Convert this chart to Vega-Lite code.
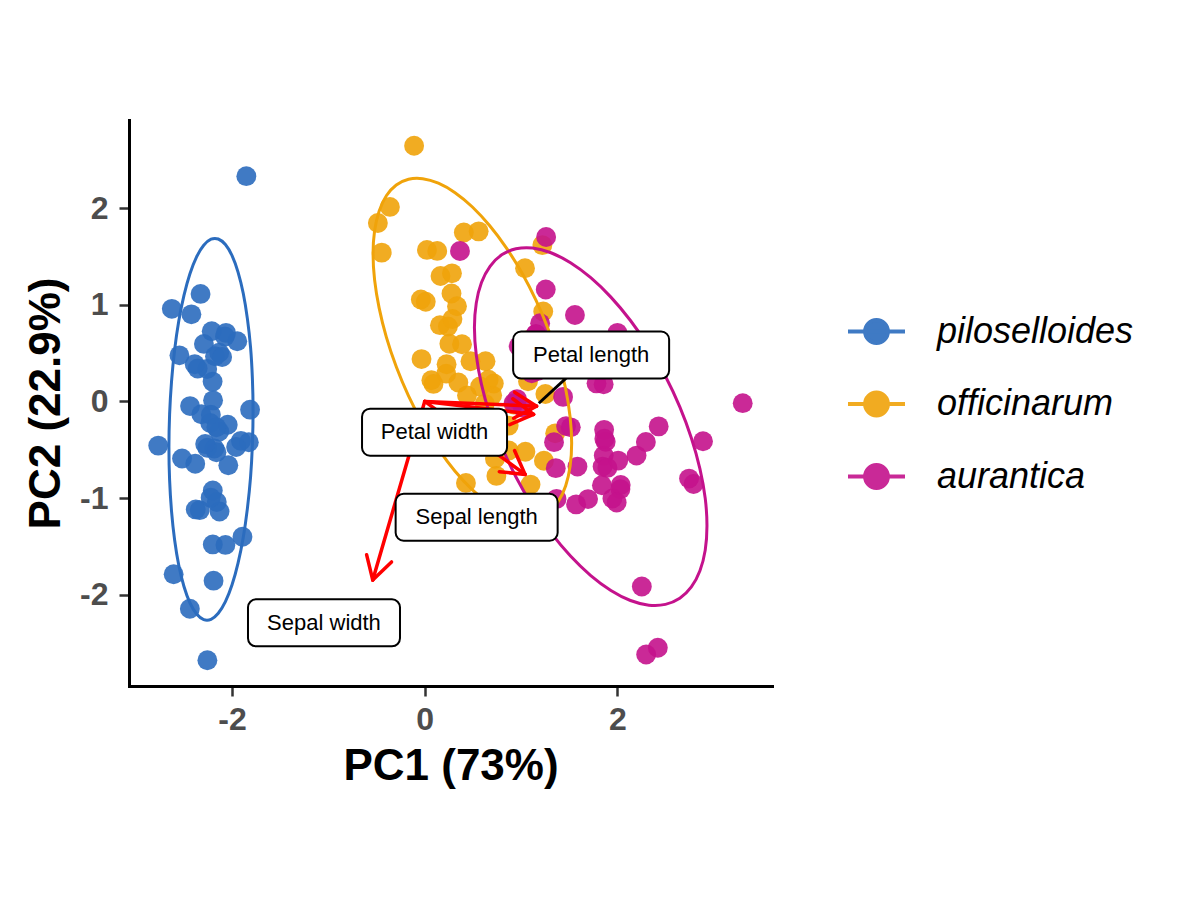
{
  "$schema": "https://vega.github.io/schema/vega-lite/v6.json",
  "width": 643,
  "height": 566,
  "autosize": {"type": "none"},
  "padding": {"left": 129, "top": 120, "right": 408, "bottom": 221},
  "background": "white",
  "config": {
    "view": {"stroke": null},
    "font": "Liberation Sans",
    "axis": {
      "grid": false,
      "domainColor": "black",
      "domainWidth": 3,
      "domainCap": "square",
      "tickColor": "#333333",
      "tickWidth": 2.5,
      "tickSize": 10,
      "labelFont": "Liberation Sans",
      "labelFontSize": 32,
      "labelFontWeight": "bold",
      "labelColor": "#4D4D4D",
      "labelExpr": "datum.value < 0 ? '-' + abs(datum.value) : '' + datum.value",
      "titleFont": "Liberation Sans",
      "titleFontSize": 44,
      "titleFontWeight": "bold",
      "titleColor": "black"
    },
    "axisX": {"labelPadding": 8, "titleY": 80, "titleBaseline": "middle"},
    "axisY": {"labelPadding": 11, "titleX": -83, "titleY": 283, "titleAngle": 270, "titleBaseline": "middle", "titleAlign": "center"},
    "legend": {
      "orient": "none",
      "legendX": 717,
      "legendY": 181,
      "padding": 0,
      "labelFont": "Liberation Sans",
      "labelFontSize": 36,
      "labelFontStyle": "italic",
      "labelColor": "black",
      "labelOffset": 30,
      "labelLimit": 0,
      "rowPadding": 22.5
    }
  },
  "datasets": {
    "points": [
      {"species": "piloselloides", "pc1": -2.256, "pc2": -0.479},
      {"species": "piloselloides", "pc1": -2.073, "pc2": 0.672},
      {"species": "piloselloides", "pc1": -2.356, "pc2": 0.341},
      {"species": "piloselloides", "pc1": -2.291, "pc2": 0.595},
      {"species": "piloselloides", "pc1": -2.381, "pc2": -0.645},
      {"species": "piloselloides", "pc1": -2.068, "pc2": -1.484},
      {"species": "piloselloides", "pc1": -2.435, "pc2": -0.048},
      {"species": "piloselloides", "pc1": -2.225, "pc2": -0.223},
      {"species": "piloselloides", "pc1": -2.326, "pc2": 1.112},
      {"species": "piloselloides", "pc1": -2.176, "pc2": 0.467},
      {"species": "piloselloides", "pc1": -2.158, "pc2": -1.040},
      {"species": "piloselloides", "pc1": -2.318, "pc2": -0.133},
      {"species": "piloselloides", "pc1": -2.210, "pc2": 0.726},
      {"species": "piloselloides", "pc1": -2.624, "pc2": 0.958},
      {"species": "piloselloides", "pc1": -2.191, "pc2": -1.854},
      {"species": "piloselloides", "pc1": -2.255, "pc2": -2.677},
      {"species": "piloselloides", "pc1": -2.199, "pc2": -1.479},
      {"species": "piloselloides", "pc1": -2.182, "pc2": -0.487},
      {"species": "piloselloides", "pc1": -1.891, "pc2": -1.400},
      {"species": "piloselloides", "pc1": -2.335, "pc2": -1.124},
      {"species": "piloselloides", "pc1": -1.907, "pc2": -0.408},
      {"species": "piloselloides", "pc1": -2.199, "pc2": -0.921},
      {"species": "piloselloides", "pc1": -2.765, "pc2": -0.457},
      {"species": "piloselloides", "pc1": -1.812, "pc2": -0.085},
      {"species": "piloselloides", "pc1": -2.219, "pc2": -0.137},
      {"species": "piloselloides", "pc1": -1.945, "pc2": 0.623},
      {"species": "piloselloides", "pc1": -2.044, "pc2": -0.241},
      {"species": "piloselloides", "pc1": -2.161, "pc2": -0.526},
      {"species": "piloselloides", "pc1": -2.132, "pc2": -0.312},
      {"species": "piloselloides", "pc1": -2.257, "pc2": 0.336},
      {"species": "piloselloides", "pc1": -2.132, "pc2": 0.503},
      {"species": "piloselloides", "pc1": -1.825, "pc2": -0.422},
      {"species": "piloselloides", "pc1": -2.605, "pc2": -1.788},
      {"species": "piloselloides", "pc1": -2.437, "pc2": -2.144},
      {"species": "piloselloides", "pc1": -2.102, "pc2": 0.459},
      {"species": "piloselloides", "pc1": -2.201, "pc2": 0.205},
      {"species": "piloselloides", "pc1": -2.038, "pc2": -0.660},
      {"species": "piloselloides", "pc1": -2.518, "pc2": -0.590},
      {"species": "piloselloides", "pc1": -2.421, "pc2": 0.901},
      {"species": "piloselloides", "pc1": -2.162, "pc2": -0.268},
      {"species": "piloselloides", "pc1": -2.278, "pc2": -0.440},
      {"species": "piloselloides", "pc1": -1.851, "pc2": 2.330},
      {"species": "piloselloides", "pc1": -2.545, "pc2": 0.477},
      {"species": "piloselloides", "pc1": -1.957, "pc2": -0.471},
      {"species": "piloselloides", "pc1": -2.129, "pc2": -1.139},
      {"species": "piloselloides", "pc1": -2.062, "pc2": 0.709},
      {"species": "piloselloides", "pc1": -2.376, "pc2": -1.117},
      {"species": "piloselloides", "pc1": -2.386, "pc2": 0.385},
      {"species": "piloselloides", "pc1": -2.221, "pc2": -0.995},
      {"species": "piloselloides", "pc1": -2.196, "pc2": 0.011},
      {"species": "officinarum", "pc1": 1.098, "pc2": -0.860},
      {"species": "officinarum", "pc1": 0.729, "pc2": -0.593},
      {"species": "officinarum", "pc1": 1.237, "pc2": -0.614},
      {"species": "officinarum", "pc1": 0.406, "pc2": 1.748},
      {"species": "officinarum", "pc1": 1.072, "pc2": 0.208},
      {"species": "officinarum", "pc1": 0.387, "pc2": 0.591},
      {"species": "officinarum", "pc1": 0.744, "pc2": -0.770},
      {"species": "officinarum", "pc1": -0.486, "pc2": 1.846},
      {"species": "officinarum", "pc1": 0.925, "pc2": -0.032},
      {"species": "officinarum", "pc1": 0.011, "pc2": 1.031},
      {"species": "officinarum", "pc1": -0.110, "pc2": 2.645},
      {"species": "officinarum", "pc1": 0.439, "pc2": 0.063},
      {"species": "officinarum", "pc1": 0.560, "pc2": 1.759},
      {"species": "officinarum", "pc1": 0.717, "pc2": 0.186},
      {"species": "officinarum", "pc1": -0.033, "pc2": 0.438},
      {"species": "officinarum", "pc1": 0.873, "pc2": -0.507},
      {"species": "officinarum", "pc1": 0.349, "pc2": 0.196},
      {"species": "officinarum", "pc1": 0.158, "pc2": 0.789},
      {"species": "officinarum", "pc1": 1.221, "pc2": 1.617},
      {"species": "officinarum", "pc1": 0.164, "pc2": 1.298},
      {"species": "officinarum", "pc1": 0.735, "pc2": -0.395},
      {"species": "officinarum", "pc1": 0.475, "pc2": 0.416},
      {"species": "officinarum", "pc1": 1.230, "pc2": 0.930},
      {"species": "officinarum", "pc1": 0.631, "pc2": 0.415},
      {"species": "officinarum", "pc1": 0.700, "pc2": 0.063},
      {"species": "officinarum", "pc1": 0.871, "pc2": -0.250},
      {"species": "officinarum", "pc1": 1.252, "pc2": 0.077},
      {"species": "officinarum", "pc1": 1.354, "pc2": -0.330},
      {"species": "officinarum", "pc1": 0.663, "pc2": 0.225},
      {"species": "officinarum", "pc1": -0.040, "pc2": 1.055},
      {"species": "officinarum", "pc1": 0.130, "pc2": 1.557},
      {"species": "officinarum", "pc1": 0.023, "pc2": 1.567},
      {"species": "officinarum", "pc1": 0.241, "pc2": 0.775},
      {"species": "officinarum", "pc1": 1.058, "pc2": 0.632},
      {"species": "officinarum", "pc1": 0.223, "pc2": 0.287},
      {"species": "officinarum", "pc1": 0.428, "pc2": -0.843},
      {"species": "officinarum", "pc1": 1.045, "pc2": -0.520},
      {"species": "officinarum", "pc1": 1.041, "pc2": 1.378},
      {"species": "officinarum", "pc1": 0.069, "pc2": 0.219},
      {"species": "officinarum", "pc1": 0.283, "pc2": 1.325},
      {"species": "officinarum", "pc1": 0.278, "pc2": 1.116},
      {"species": "officinarum", "pc1": 0.623, "pc2": -0.025},
      {"species": "officinarum", "pc1": 0.335, "pc2": 0.985},
      {"species": "officinarum", "pc1": -0.361, "pc2": 2.012},
      {"species": "officinarum", "pc1": 0.288, "pc2": 0.853},
      {"species": "officinarum", "pc1": 0.091, "pc2": 0.181},
      {"species": "officinarum", "pc1": 0.227, "pc2": 0.384},
      {"species": "officinarum", "pc1": 0.575, "pc2": 0.154},
      {"species": "officinarum", "pc1": -0.446, "pc2": 1.539},
      {"species": "officinarum", "pc1": 0.256, "pc2": 0.597},
      {"species": "aurantica", "pc1": 1.839, "pc2": -0.867},
      {"species": "aurantica", "pc1": 1.154, "pc2": 0.696},
      {"species": "aurantica", "pc1": 2.198, "pc2": -0.560},
      {"species": "aurantica", "pc1": 1.436, "pc2": 0.047},
      {"species": "aurantica", "pc1": 1.862, "pc2": -0.294},
      {"species": "aurantica", "pc1": 2.743, "pc2": -0.798},
      {"species": "aurantica", "pc1": 0.366, "pc2": 1.556},
      {"species": "aurantica", "pc1": 2.295, "pc2": -0.419},
      {"species": "aurantica", "pc1": 2.000, "pc2": 0.709},
      {"species": "aurantica", "pc1": 2.253, "pc2": -1.914},
      {"species": "aurantica", "pc1": 1.360, "pc2": -0.690},
      {"species": "aurantica", "pc1": 1.597, "pc2": 0.420},
      {"species": "aurantica", "pc1": 1.878, "pc2": -0.418},
      {"species": "aurantica", "pc1": 1.256, "pc2": 1.158},
      {"species": "aurantica", "pc1": 1.463, "pc2": 0.441},
      {"species": "aurantica", "pc1": 1.585, "pc2": -0.674},
      {"species": "aurantica", "pc1": 1.467, "pc2": -0.255},
      {"species": "aurantica", "pc1": 2.419, "pc2": -2.548},
      {"species": "aurantica", "pc1": 3.300, "pc2": -0.018},
      {"species": "aurantica", "pc1": 1.260, "pc2": 1.701},
      {"species": "aurantica", "pc1": 2.031, "pc2": -0.907},
      {"species": "aurantica", "pc1": 0.975, "pc2": 0.570},
      {"species": "aurantica", "pc1": 2.888, "pc2": -0.412},
      {"species": "aurantica", "pc1": 1.329, "pc2": 0.480},
      {"species": "aurantica", "pc1": 1.695, "pc2": -1.010},
      {"species": "aurantica", "pc1": 1.948, "pc2": -1.004},
      {"species": "aurantica", "pc1": 1.171, "pc2": 0.315},
      {"species": "aurantica", "pc1": 1.018, "pc2": -0.064},
      {"species": "aurantica", "pc1": 1.783, "pc2": 0.187},
      {"species": "aurantica", "pc1": 1.858, "pc2": -0.560},
      {"species": "aurantica", "pc1": 2.428, "pc2": -0.258},
      {"species": "aurantica", "pc1": 2.298, "pc2": -2.617},
      {"species": "aurantica", "pc1": 1.857, "pc2": 0.178},
      {"species": "aurantica", "pc1": 1.111, "pc2": 0.292},
      {"species": "aurantica", "pc1": 1.198, "pc2": 0.809},
      {"species": "aurantica", "pc1": 2.790, "pc2": -0.854},
      {"species": "aurantica", "pc1": 1.571, "pc2": -1.065},
      {"species": "aurantica", "pc1": 1.342, "pc2": -0.421},
      {"species": "aurantica", "pc1": 0.922, "pc2": -0.017},
      {"species": "aurantica", "pc1": 1.846, "pc2": -0.674},
      {"species": "aurantica", "pc1": 2.008, "pc2": -0.612},
      {"species": "aurantica", "pc1": 1.896, "pc2": -0.687},
      {"species": "aurantica", "pc1": 1.154, "pc2": 0.696},
      {"species": "aurantica", "pc1": 2.034, "pc2": -0.865},
      {"species": "aurantica", "pc1": 1.992, "pc2": -1.045},
      {"species": "aurantica", "pc1": 1.864, "pc2": -0.386},
      {"species": "aurantica", "pc1": 1.559, "pc2": 0.894},
      {"species": "aurantica", "pc1": 1.516, "pc2": -0.268},
      {"species": "aurantica", "pc1": 1.368, "pc2": -1.008},
      {"species": "aurantica", "pc1": 0.958, "pc2": 0.024}
    ],
    "ellipses": [
      {"species": "piloselloides", "k": 0, "pc1": -1.781, "pc2": -0.101},
      {"species": "piloselloides", "k": 1, "pc1": -1.788, "pc2": 0.238},
      {"species": "piloselloides", "k": 2, "pc1": -1.807, "pc2": 0.560},
      {"species": "piloselloides", "k": 3, "pc1": -1.840, "pc2": 0.857},
      {"species": "piloselloides", "k": 4, "pc1": -1.883, "pc2": 1.119},
      {"species": "piloselloides", "k": 5, "pc1": -1.937, "pc2": 1.338},
      {"species": "piloselloides", "k": 6, "pc1": -1.999, "pc2": 1.508},
      {"species": "piloselloides", "k": 7, "pc1": -2.068, "pc2": 1.623},
      {"species": "piloselloides", "k": 8, "pc1": -2.142, "pc2": 1.680},
      {"species": "piloselloides", "k": 9, "pc1": -2.217, "pc2": 1.678},
      {"species": "piloselloides", "k": 10, "pc1": -2.293, "pc2": 1.615},
      {"species": "piloselloides", "k": 11, "pc1": -2.367, "pc2": 1.495},
      {"species": "piloselloides", "k": 12, "pc1": -2.436, "pc2": 1.321},
      {"species": "piloselloides", "k": 13, "pc1": -2.498, "pc2": 1.097},
      {"species": "piloselloides", "k": 14, "pc1": -2.552, "pc2": 0.832},
      {"species": "piloselloides", "k": 15, "pc1": -2.595, "pc2": 0.533},
      {"species": "piloselloides", "k": 16, "pc1": -2.627, "pc2": 0.208},
      {"species": "piloselloides", "k": 17, "pc1": -2.647, "pc2": -0.131},
      {"species": "piloselloides", "k": 18, "pc1": -2.654, "pc2": -0.475},
      {"species": "piloselloides", "k": 19, "pc1": -2.647, "pc2": -0.814},
      {"species": "piloselloides", "k": 20, "pc1": -2.627, "pc2": -1.136},
      {"species": "piloselloides", "k": 21, "pc1": -2.595, "pc2": -1.433},
      {"species": "piloselloides", "k": 22, "pc1": -2.552, "pc2": -1.695},
      {"species": "piloselloides", "k": 23, "pc1": -2.498, "pc2": -1.914},
      {"species": "piloselloides", "k": 24, "pc1": -2.436, "pc2": -2.084},
      {"species": "piloselloides", "k": 25, "pc1": -2.367, "pc2": -2.199},
      {"species": "piloselloides", "k": 26, "pc1": -2.293, "pc2": -2.256},
      {"species": "piloselloides", "k": 27, "pc1": -2.217, "pc2": -2.253},
      {"species": "piloselloides", "k": 28, "pc1": -2.142, "pc2": -2.191},
      {"species": "piloselloides", "k": 29, "pc1": -2.068, "pc2": -2.071},
      {"species": "piloselloides", "k": 30, "pc1": -1.999, "pc2": -1.897},
      {"species": "piloselloides", "k": 31, "pc1": -1.937, "pc2": -1.673},
      {"species": "piloselloides", "k": 32, "pc1": -1.883, "pc2": -1.408},
      {"species": "piloselloides", "k": 33, "pc1": -1.840, "pc2": -1.109},
      {"species": "piloselloides", "k": 34, "pc1": -1.807, "pc2": -0.784},
      {"species": "piloselloides", "k": 35, "pc1": -1.788, "pc2": -0.445},
      {"species": "officinarum", "k": 0, "pc1": 1.525, "pc2": -0.430},
      {"species": "officinarum", "k": 1, "pc1": 1.509, "pc2": -0.162},
      {"species": "officinarum", "k": 2, "pc1": 1.463, "pc2": 0.129},
      {"species": "officinarum", "k": 3, "pc1": 1.388, "pc2": 0.432},
      {"species": "officinarum", "k": 4, "pc1": 1.285, "pc2": 0.739},
      {"species": "officinarum", "k": 5, "pc1": 1.158, "pc2": 1.039},
      {"species": "officinarum", "k": 6, "pc1": 1.011, "pc2": 1.326},
      {"species": "officinarum", "k": 7, "pc1": 0.847, "pc2": 1.588},
      {"species": "officinarum", "k": 8, "pc1": 0.673, "pc2": 1.819},
      {"species": "officinarum", "k": 9, "pc1": 0.495, "pc2": 2.011},
      {"species": "officinarum", "k": 10, "pc1": 0.315, "pc2": 2.159},
      {"species": "officinarum", "k": 11, "pc1": 0.142, "pc2": 2.257},
      {"species": "officinarum", "k": 12, "pc1": -0.021, "pc2": 2.304},
      {"species": "officinarum", "k": 13, "pc1": -0.168, "pc2": 2.298},
      {"species": "officinarum", "k": 14, "pc1": -0.295, "pc2": 2.238},
      {"species": "officinarum", "k": 15, "pc1": -0.398, "pc2": 2.127},
      {"species": "officinarum", "k": 16, "pc1": -0.473, "pc2": 1.968},
      {"species": "officinarum", "k": 17, "pc1": -0.520, "pc2": 1.766},
      {"species": "officinarum", "k": 18, "pc1": -0.536, "pc2": 1.527},
      {"species": "officinarum", "k": 19, "pc1": -0.520, "pc2": 1.258},
      {"species": "officinarum", "k": 20, "pc1": -0.473, "pc2": 0.968},
      {"species": "officinarum", "k": 21, "pc1": -0.398, "pc2": 0.665},
      {"species": "officinarum", "k": 22, "pc1": -0.295, "pc2": 0.358},
      {"species": "officinarum", "k": 23, "pc1": -0.168, "pc2": 0.057},
      {"species": "officinarum", "k": 24, "pc1": -0.021, "pc2": -0.229},
      {"species": "officinarum", "k": 25, "pc1": 0.142, "pc2": -0.491},
      {"species": "officinarum", "k": 26, "pc1": 0.315, "pc2": -0.722},
      {"species": "officinarum", "k": 27, "pc1": 0.495, "pc2": -0.914},
      {"species": "officinarum", "k": 28, "pc1": 0.673, "pc2": -1.062},
      {"species": "officinarum", "k": 29, "pc1": 0.847, "pc2": -1.161},
      {"species": "officinarum", "k": 30, "pc1": 1.011, "pc2": -1.208},
      {"species": "officinarum", "k": 31, "pc1": 1.158, "pc2": -1.201},
      {"species": "officinarum", "k": 32, "pc1": 1.285, "pc2": -1.141},
      {"species": "officinarum", "k": 33, "pc1": 1.388, "pc2": -1.031},
      {"species": "officinarum", "k": 34, "pc1": 1.463, "pc2": -0.872},
      {"species": "officinarum", "k": 35, "pc1": 1.509, "pc2": -0.669},
      {"species": "aurantica", "k": 0, "pc1": 2.929, "pc2": -1.286},
      {"species": "aurantica", "k": 1, "pc1": 2.911, "pc2": -1.003},
      {"species": "aurantica", "k": 2, "pc1": 2.856, "pc2": -0.697},
      {"species": "aurantica", "k": 3, "pc1": 2.767, "pc2": -0.378},
      {"species": "aurantica", "k": 4, "pc1": 2.647, "pc2": -0.056},
      {"species": "aurantica", "k": 5, "pc1": 2.498, "pc2": 0.260},
      {"species": "aurantica", "k": 6, "pc1": 2.326, "pc2": 0.561},
      {"species": "aurantica", "k": 7, "pc1": 2.135, "pc2": 0.837},
      {"species": "aurantica", "k": 8, "pc1": 1.932, "pc2": 1.079},
      {"species": "aurantica", "k": 9, "pc1": 1.723, "pc2": 1.280},
      {"species": "aurantica", "k": 10, "pc1": 1.513, "pc2": 1.435},
      {"species": "aurantica", "k": 11, "pc1": 1.310, "pc2": 1.538},
      {"species": "aurantica", "k": 12, "pc1": 1.120, "pc2": 1.587},
      {"species": "aurantica", "k": 13, "pc1": 0.947, "pc2": 1.579},
      {"species": "aurantica", "k": 14, "pc1": 0.799, "pc2": 1.516},
      {"species": "aurantica", "k": 15, "pc1": 0.678, "pc2": 1.398},
      {"species": "aurantica", "k": 16, "pc1": 0.589, "pc2": 1.230},
      {"species": "aurantica", "k": 17, "pc1": 0.535, "pc2": 1.017},
      {"species": "aurantica", "k": 18, "pc1": 0.516, "pc2": 0.766},
      {"species": "aurantica", "k": 19, "pc1": 0.535, "pc2": 0.482},
      {"species": "aurantica", "k": 20, "pc1": 0.589, "pc2": 0.177},
      {"species": "aurantica", "k": 21, "pc1": 0.678, "pc2": -0.142},
      {"species": "aurantica", "k": 22, "pc1": 0.799, "pc2": -0.465},
      {"species": "aurantica", "k": 23, "pc1": 0.947, "pc2": -0.781},
      {"species": "aurantica", "k": 24, "pc1": 1.120, "pc2": -1.081},
      {"species": "aurantica", "k": 25, "pc1": 1.310, "pc2": -1.357},
      {"species": "aurantica", "k": 26, "pc1": 1.513, "pc2": -1.599},
      {"species": "aurantica", "k": 27, "pc1": 1.723, "pc2": -1.801},
      {"species": "aurantica", "k": 28, "pc1": 1.932, "pc2": -1.955},
      {"species": "aurantica", "k": 29, "pc1": 2.135, "pc2": -2.059},
      {"species": "aurantica", "k": 30, "pc1": 2.326, "pc2": -2.107},
      {"species": "aurantica", "k": 31, "pc1": 2.498, "pc2": -2.099},
      {"species": "aurantica", "k": 32, "pc1": 2.647, "pc2": -2.036},
      {"species": "aurantica", "k": 33, "pc1": 2.767, "pc2": -1.919},
      {"species": "aurantica", "k": 34, "pc1": 2.856, "pc2": -1.751},
      {"species": "aurantica", "k": 35, "pc1": 2.911, "pc2": -1.538}
    ],
    "arrows": [
      {"variable": "Sepal length", "pc1": 0, "pc2": 0, "pc1_end": 1.042, "pc2_end": -0.755},
      {"variable": "Sepal width", "pc1": 0, "pc2": 0, "pc1_end": -0.539, "pc2_end": -1.847},
      {"variable": "Petal length", "pc1": 0, "pc2": 0, "pc1_end": 1.161, "pc2_end": -0.049},
      {"variable": "Petal width", "pc1": 0, "pc2": 0, "pc1_end": 1.130, "pc2_end": -0.134},
      {"variable": "Sepal length", "pc1": 1.042, "pc2": -0.755, "pc1_end": 0.774, "pc2_end": -0.727},
      {"variable": "Sepal length", "pc1": 1.042, "pc2": -0.755, "pc1_end": 0.932, "pc2_end": -0.508},
      {"variable": "Sepal width", "pc1": -0.539, "pc2": -1.847, "pc1_end": -0.603, "pc2_end": -1.585},
      {"variable": "Sepal width", "pc1": -0.539, "pc2": -1.847, "pc1_end": -0.344, "pc2_end": -1.660},
      {"variable": "Petal length", "pc1": 1.161, "pc2": -0.049, "pc1_end": 0.922, "pc2_end": -0.174},
      {"variable": "Petal length", "pc1": 1.161, "pc2": -0.049, "pc1_end": 0.933, "pc2_end": 0.096},
      {"variable": "Petal width", "pc1": 1.130, "pc2": -0.134, "pc1_end": 0.882, "pc2_end": -0.240},
      {"variable": "Petal width", "pc1": 1.130, "pc2": -0.134, "pc1_end": 0.914, "pc2_end": 0.028}
    ],
    "links": [
      {"variable": "Petal length", "pc1": 1.184, "pc2": -0.019, "pc1_end": 1.727, "pc2_end": 0.480}
    ],
    "labels": [
      {"variable": "Petal length", "pc1": 1.727, "pc2": 0.480},
      {"variable": "Petal width", "pc1": 0.102, "pc2": -0.318},
      {"variable": "Sepal length", "pc1": 0.539, "pc2": -1.198},
      {"variable": "Sepal width", "pc1": -1.045, "pc2": -2.290}
    ]
  },
  "encoding": {
    "x": {"field": "pc1", "type": "quantitative", "scale": {"domain": [-3.0684, 3.6038], "nice": false, "zero": false}, "axis": {"title": "PC1 (73%)", "values": [-2, 0, 2]}},
    "y": {"field": "pc2", "type": "quantitative", "scale": {"domain": [-2.9434, 2.911], "nice": false, "zero": false}, "axis": {"title": "PC2 (22.9%)", "values": [-2, -1, 0, 1, 2]}}
  },
  "layer": [
    {
      "data": {"name": "points"},
      "mark": {"type": "circle", "size": 395, "opacity": 0.9},
      "encoding": {
        "color": {
          "field": "species", "type": "nominal",
          "scale": {"domain": ["piloselloides", "officinarum", "aurantica"], "range": ["#2B6CBE", "#F0A30A", "#C4128C"]},
          "legend": {
            "title": null,
            "symbolType": "M-1,0L1,0M-0.4,0A0.4,0.4,0,1,1,0.4,0A0.4,0.4,0,1,1,-0.4,0Z",
            "symbolSize": 3249,
            "symbolStrokeWidth": 4,
            "encode": {
              "symbols": {
                "update": {
                  "fill": {"scale": "color", "field": "value"},
                  "stroke": {"scale": "color", "field": "value"},
                  "strokeWidth": {"value": 4},
                  "opacity": {"value": 0.95}
                }
              }
            }
          }
        }
      }
    },
    {
      "data": {"name": "ellipses"},
      "mark": {"type": "line", "strokeWidth": 3, "interpolate": "cardinal-closed"},
      "encoding": {
        "stroke": {
          "field": "species", "type": "nominal",
          "scale": {"domain": ["piloselloides", "officinarum", "aurantica"], "range": ["#2B6CBE", "#F0A30A", "#C4128C"]},
          "legend": null
        },
        "order": {"field": "k", "type": "quantitative"}
      }
    },
    {
      "data": {"name": "arrows"},
      "mark": {"type": "rule", "color": "#FF0000", "strokeWidth": 3.5, "strokeCap": "round"},
      "encoding": {
        "x2": {"field": "pc1_end"},
        "y2": {"field": "pc2_end"}
      }
    },
    {
      "data": {"name": "links"},
      "mark": {"type": "rule", "color": "black", "strokeWidth": 3},
      "encoding": {
        "x2": {"field": "pc1_end"},
        "y2": {"field": "pc2_end"}
      }
    },
    {
      "data": {"name": "labels"},
      "transform": [{"filter": "datum.variable === 'Petal length'"}],
      "mark": {"type": "rect", "width": 156, "height": 47, "fill": "white", "stroke": "black", "strokeWidth": 2, "cornerRadius": 8}
    },
    {
      "data": {"name": "labels"},
      "transform": [{"filter": "datum.variable === 'Petal width'"}],
      "mark": {"type": "rect", "width": 145, "height": 47, "fill": "white", "stroke": "black", "strokeWidth": 2, "cornerRadius": 8}
    },
    {
      "data": {"name": "labels"},
      "transform": [{"filter": "datum.variable === 'Sepal length'"}],
      "mark": {"type": "rect", "width": 162, "height": 47, "fill": "white", "stroke": "black", "strokeWidth": 2, "cornerRadius": 8}
    },
    {
      "data": {"name": "labels"},
      "transform": [{"filter": "datum.variable === 'Sepal width'"}],
      "mark": {"type": "rect", "width": 152, "height": 47, "fill": "white", "stroke": "black", "strokeWidth": 2, "cornerRadius": 8}
    },
    {
      "data": {"name": "labels"},
      "mark": {"type": "text", "font": "Liberation Sans", "fontSize": 22, "color": "black", "align": "center", "baseline": "middle"},
      "encoding": {"text": {"field": "variable"}}
    }
  ]
}
